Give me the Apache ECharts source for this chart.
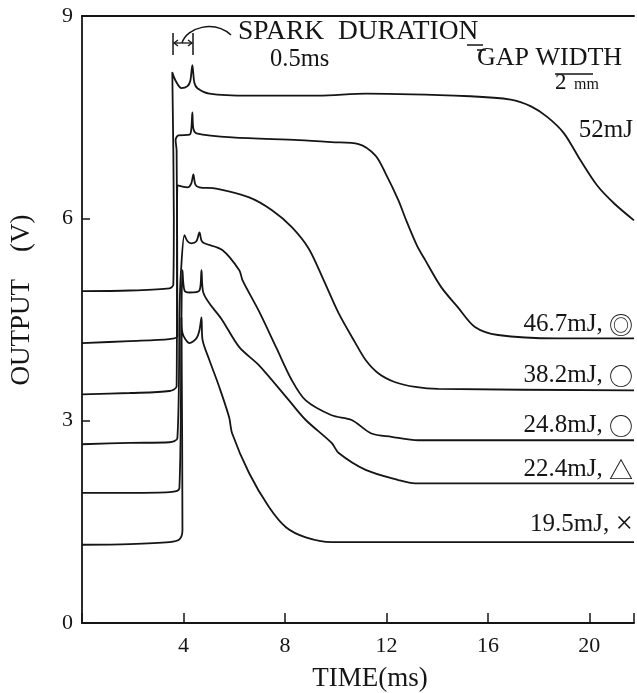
<!DOCTYPE html>
<html>
<head>
<meta charset="utf-8">
<script src="https://cdn.jsdelivr.net/npm/echarts@6/dist/echarts.min.js"></script>
<style>
  html, body { margin: 0; padding: 0; background: #fff; }
  #main { width: 637px; height: 693px; }
</style>
</head>
<body>
<div id="main"></div>
<script>
// time (ms), output (V)
var curve52 = [
  [0, 4.92], [1.88, 4.93], [3.45, 4.96], [3.6, 5.02], [3.62, 6.0], [3.56, 8.16],
  [3.69, 8.04], [3.92, 7.93], [4.16, 7.96], [4.27, 8.04], [4.35, 8.27], [4.43, 8.01],
  [4.55, 7.93], [5.02, 7.85], [6.59, 7.82], [9.33, 7.82], [11.2, 7.85], [15.3, 7.81],
  [16.9, 7.76], [17.7, 7.66], [18.35, 7.5], [19.0, 7.26], [19.65, 6.86], [20.3, 6.49],
  [20.98, 6.22], [21.76, 5.97]
];
var curve467 = [
  [0, 4.15], [1.88, 4.18], [3.45, 4.21], [3.76, 4.25], [3.73, 7.0], [3.69, 7.16],
  [3.8, 7.23], [4.24, 7.24], [4.31, 7.33], [4.35, 7.57], [4.39, 7.33], [4.51, 7.26],
  [5.92, 7.2], [8.55, 7.16], [9.84, 7.13], [10.9, 7.1], [11.57, 6.93], [11.96, 6.67],
  [12.47, 6.27], [12.78, 5.97], [13.2, 5.6], [13.53, 5.38], [14.16, 4.98], [14.82, 4.68],
  [15.49, 4.39], [16.4, 4.27], [18.75, 4.22], [21.76, 4.22]
];
var curve382 = [
  [0, 3.39], [1.88, 3.41], [3.45, 3.44], [3.73, 3.51], [3.76, 6.49], [3.96, 6.47],
  [4.16, 6.46], [4.31, 6.52], [4.39, 6.65], [4.47, 6.5], [4.63, 6.46], [5.29, 6.44],
  [6.59, 6.31], [7.49, 6.12], [8.27, 5.87], [8.94, 5.55], [9.53, 5.08], [10.12, 4.59],
  [10.78, 4.15], [11.18, 3.9], [11.69, 3.7], [12.35, 3.57], [13.14, 3.5], [14.04, 3.47],
  [21.76, 3.45]
];
var curve248 = [
  [0, 2.65], [1.88, 2.67], [3.45, 2.68], [3.76, 2.74], [3.85, 4.7], [3.9, 5.2],
  [4.04, 5.75], [4.16, 5.66], [4.31, 5.63], [4.51, 5.66], [4.63, 5.79], [4.71, 5.67],
  [4.82, 5.63], [5.53, 5.53], [6.2, 5.23], [6.33, 5.08], [6.98, 4.62], [7.65, 4.09],
  [8.27, 3.6], [8.82, 3.3], [9.84, 3.08], [10.63, 3.01], [11.41, 2.81], [12.2, 2.76],
  [13.25, 2.71], [21.76, 2.71]
];
var curve224 = [
  [0, 1.93], [1.88, 1.93], [3.45, 1.94], [3.84, 2.0], [3.92, 4.5], [3.96, 5.23],
  [4.04, 4.93], [4.24, 4.9], [4.63, 4.93], [4.71, 5.23], [4.78, 4.9], [5.53, 4.49],
  [6.2, 4.09], [6.98, 3.82], [8.16, 3.3], [8.82, 3.01], [9.84, 2.67], [10.12, 2.52],
  [11.18, 2.27], [12.47, 2.12], [13.14, 2.07], [21.76, 2.07]
];
var curve195 = [
  [0, 1.16], [1.88, 1.17], [3.45, 1.2], [3.84, 1.24], [3.96, 1.38], [3.92, 4.53],
  [3.96, 4.3], [4.24, 4.15], [4.51, 4.22], [4.63, 4.34], [4.71, 4.53], [4.75, 4.2],
  [5.02, 3.9], [5.41, 3.5], [5.8, 3.05], [5.92, 2.81], [6.59, 2.22], [7.37, 1.72],
  [8.04, 1.42], [8.82, 1.27], [9.84, 1.2], [12.47, 1.2], [21.76, 1.2]
];
var curves = [curve52, curve467, curve382, curve248, curve224, curve195];
var energies = ['52mJ', '46.7mJ, ', '38.2mJ, ', '24.8mJ, ', '22.4mJ, ', '19.5mJ, '];
var marks = ['', '◎', '○', '○', '△', '×'];
var xTicks = [4, 8, 12, 16, 20];

var serif = "'Liberation Serif', 'DejaVu Serif', serif";
var ink = '#151515';

var chart = echarts.init(document.getElementById('main'));

var series = curves.map(function (c, i) {
  return {
    name: energies[i] + marks[i],
    type: 'line',
    data: c,
    symbol: 'none',
    smooth: 0.3,
    lineStyle: { color: ink, width: 1.8 },
    animation: false
  };
});

// right hand labels, baselines in px
var labelY = [143, 337, 388, 438, 482, 540];
var graphics = energies.map(function (t, i) {
  var isCross = marks[i] === '×';
  return {
    type: 'text', x: 633, y: labelY[i],
    style: {
      text: '{t|' + t + '}' + (marks[i] ? '{m|' + marks[i] + '}' : ''),
      fill: ink, textAlign: 'right', textVerticalAlign: 'bottom',
      rich: {
        t: { fontFamily: serif, fontSize: 25, fill: ink },
        m: { fontFamily: isCross ? serif : "'Noto Sans CJK JP', sans-serif",
             fontSize: isCross ? 31 : 24, fill: ink }
      }
    }
  };
});

graphics.push(
  { type: 'text', x: 22, y: 300, rotation: Math.PI / 2,
    style: { text: 'OUTPUT    (V)', font: '27px ' + serif, fill: ink,
             textAlign: 'center', textVerticalAlign: 'middle' } },
  { type: 'text', x: 370, y: 679,
    style: { text: 'TIME(ms)', font: '27px ' + serif, fill: ink,
             textAlign: 'center', textVerticalAlign: 'middle' } },
  { type: 'text', x: 238, y: 46,
    style: { text: 'SPARK  DURATION', font: '27.5px ' + serif, fill: ink,
             textVerticalAlign: 'bottom' } },
  { type: 'text', x: 270, y: 72,
    style: { text: '0.5ms', font: '24.5px ' + serif, fill: ink,
             textVerticalAlign: 'bottom' } },
  { type: 'text', x: 477, y: 71,
    style: { text: 'GAP WIDTH', font: '26px ' + serif, fill: ink,
             textVerticalAlign: 'bottom' } },
  { type: 'text', x: 555, y: 94,
    style: { text: '2', font: '23px ' + serif, fill: ink,
             textVerticalAlign: 'bottom' } },
  { type: 'text', x: 574, y: 93,
    style: { text: 'mm', font: '16px ' + serif, fill: ink,
             textVerticalAlign: 'bottom' } },
  { type: 'line', shape: { x1: 555, y1: 74, x2: 593, y2: 74 },
    style: { stroke: ink, lineWidth: 1.5 } },
  { type: 'line', shape: { x1: 467, y1: 45, x2: 483, y2: 45 },
    style: { stroke: ink, lineWidth: 1.5 } },
  { type: 'line', shape: { x1: 477, y1: 50, x2: 486, y2: 50 },
    style: { stroke: ink, lineWidth: 1.5 } },
  // spark duration bracket
  { type: 'line', shape: { x1: 173, y1: 33, x2: 173, y2: 55 },
    style: { stroke: ink, lineWidth: 1.5 } },
  { type: 'line', shape: { x1: 193, y1: 33, x2: 193, y2: 55 },
    style: { stroke: ink, lineWidth: 1.5 } },
  { type: 'line', shape: { x1: 174, y1: 43, x2: 192, y2: 43 },
    style: { stroke: ink, lineWidth: 1.3 } },
  { type: 'polyline', shape: { points: [[178, 40], [174, 43], [178, 46]] },
    style: { stroke: ink, lineWidth: 1.3, fill: null } },
  { type: 'polyline', shape: { points: [[188, 40], [192, 43], [188, 46]] },
    style: { stroke: ink, lineWidth: 1.3, fill: null } },
  { type: 'bezierCurve',
    shape: { x1: 182, y1: 43, cpx1: 187, cpy1: 27, cpx2: 214, cpy2: 20, x2: 231, y2: 35 },
    style: { stroke: ink, lineWidth: 1.5, fill: null } }
);

var option = {
  backgroundColor: '#fff',
  animation: false,
  grid: { left: 82, top: 16, right: 0, bottom: 70 },
  xAxis: [
    {
      type: 'value', min: 0, max: 21.76, interval: 4,
      axisLine: { lineStyle: { color: ink, width: 2 } },
      axisTick: { inside: true, length: 10, lineStyle: { color: ink, width: 1.5 } },
      axisLabel: {
        margin: 12, color: ink, fontFamily: serif, fontSize: 22,
        formatter: function (v) { return xTicks.indexOf(v) >= 0 ? String(v) : ''; }
      },
      splitLine: { show: false }
    },
    {
      type: 'value', position: 'top', min: 0, max: 21.76,
      axisLine: { lineStyle: { color: ink, width: 2 } },
      axisTick: { show: false }, axisLabel: { show: false }, splitLine: { show: false }
    }
  ],
  yAxis: {
    type: 'value', min: 0, max: 9, interval: 3,
    axisLine: { lineStyle: { color: ink, width: 1.8 } },
    axisTick: { inside: true, length: 8, lineStyle: { color: ink, width: 1.5 } },
    axisLabel: { margin: 9, color: ink, fontFamily: serif, fontSize: 22 },
    splitLine: { show: false }
  },
  graphic: graphics,
  series: series
};
chart.setOption(option);
</script>
</body>
</html>
